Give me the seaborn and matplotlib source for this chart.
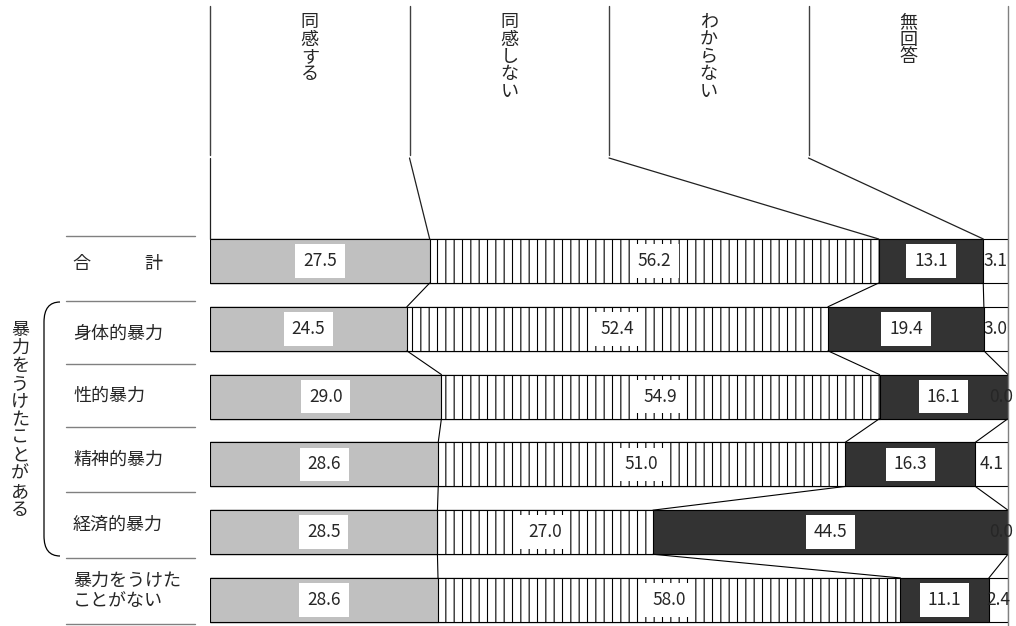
import numpy as np
import pandas as pd
import matplotlib
matplotlib.use("Agg")
import matplotlib.pyplot as plt
import seaborn as sns
from matplotlib.path import Path
from matplotlib.patches import PathPatch

# data (percent)
rows = ["合計", "身体的暴力", "性的暴力", "精神的暴力", "経済的暴力", "暴力をうけたことがない"]
row_labels = ["合　　　計", "身体的暴力", "性的暴力", "精神的暴力", "経済的暴力", "暴力をうけた\nことがない"]
categories = ["同感する", "同感しない", "わからない", "無回答"]
agree = [27.5, 24.5, 29.0, 28.6, 28.5, 28.6]
disagree = [56.2, 52.4, 54.9, 51.0, 27.0, 58.0]
dont_know = [13.1, 19.4, 16.1, 16.3, 44.5, 11.1]
no_answer = [3.1, 3.0, 0.0, 4.1, 0.0, 2.4]
group_label = "暴力をうけたことがある"

# layout (pixels of the 1016x626 picture)
W, H = 1016, 626
ROW_PX = 67.8
Y0_PX = 261
sep_px = [236, 300.5, 364, 427, 492, 558, 624]
label_px = [264, 334, 396, 460, 525, 591]


def py(p):
    return (p - Y0_PX) / ROW_PX


def px_x(p):
    return (p - 210) / 7.98


sns.set_style("white")
plt.rcParams['font.family'] = ['Noto Sans CJK JP', 'DejaVu Sans']
plt.rcParams['hatch.linewidth'] = 0.8

raw = pd.DataFrame({c: v for c, v in zip(categories, [agree, disagree, dont_know, no_answer])}, index=rows)
share = raw.div(raw.sum(axis=1), axis=0) * 100
cum = share.cumsum(axis=1)

fig = plt.figure(figsize=(W / 100, H / 100), dpi=100)
ax = fig.add_axes([210 / W, 0, 798 / W, 1])

# 100% stacked bars drawn as overlaid cumulative bars
layers = [(categories[3], 'white', None), (categories[2], '#333333', None),
          (categories[1], 'white', '||'), (categories[0], '#c0c0c0', None)]
for cat, col, hatch in layers:
    sns.barplot(x=cum[cat].values, y=rows, orient='h', color=col, saturation=1,
                width=0.65, edgecolor='black', linewidth=0.8, hatch=hatch, ax=ax)

ax.set_xlim(0, 100)
ax.set_ylim(py(H), py(0))
ax.axis('off')

half = 0.325
n = len(rows)
# series lines between bars
for i in range(n - 1):
    for cat in categories[:3]:
        ax.plot([cum[cat].iloc[i], cum[cat].iloc[i + 1]], [i + half, i + 1 - half],
                color='black', lw=0.8)

# value labels
for i in range(n):
    for cat in categories:
        v = raw[cat].iloc[i]
        xc = min(cum[cat].iloc[i] - share[cat].iloc[i] / 2, 99.1)
        kw = {}
        if v >= 10:
            kw['bbox'] = dict(boxstyle='square,pad=0.45', fc='white', ec='none')
        ax.text(xc, i, f"{v:.1f}", ha='center', va='center', fontsize=12.5, **kw)

# header with column titles and leader lines
for k, q in enumerate([0, 25, 50, 75]):
    ax.plot([q, q], [py(6), py(155)], color='#404040', lw=1, clip_on=False)
    end = 0 if k == 0 else cum[categories[k - 1]].iloc[0]
    ax.plot([q, end], [py(158), -half], color='#202020', lw=0.9, clip_on=False)
ax.plot([100, 100], [py(6), py(H)], color='#808080', lw=1, clip_on=False)


def vtext(xc, top_px, s, pitch=17.5, size=13):
    for j, ch in enumerate(s):
        ax.text(xc, py(top_px + 15 + j * pitch), ch, ha='center', va='baseline',
                fontsize=size, clip_on=False)


for k, cat in enumerate(categories):
    vtext(12.5 + 25 * k, 12, cat)

# row labels and separators
for lab, yp in zip(row_labels, label_px):
    ax.text(px_x(73), py(yp), lab, ha='left', va='center', fontsize=13,
            linespacing=1.2, clip_on=False)
for yp in sep_px:
    ax.plot([px_x(66), px_x(195)], [py(yp), py(yp)], color='#808080', lw=1, clip_on=False)

# bracket for the group
verts = [(px_x(60), py(302)), (px_x(44), py(302)), (px_x(44), py(322)),
         (px_x(44), py(536)), (px_x(44), py(556)), (px_x(60), py(556))]
codes = [Path.MOVETO, Path.CURVE3, Path.CURVE3, Path.LINETO, Path.CURVE3, Path.CURVE3]
ax.add_patch(PathPatch(Path(verts, codes), fc='none', ec='black', lw=0.9, clip_on=False))
vtext(px_x(20), 320, group_label, pitch=18)

fig.savefig('out.png', dpi=100)
